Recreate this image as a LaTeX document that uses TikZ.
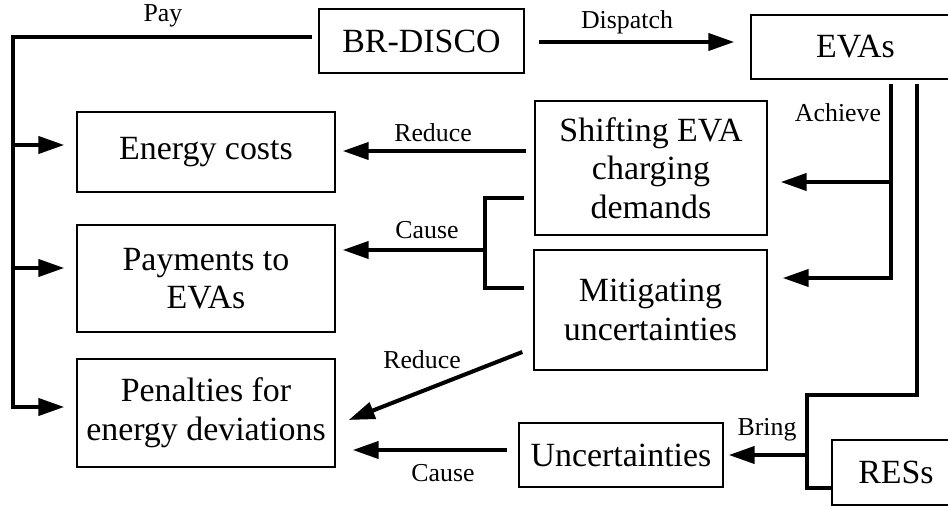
\documentclass[tikz,border=0pt]{standalone}
\usepackage{fontspec}
\setmainfont{Liberation Serif}
\usetikzlibrary{calc}
\usetikzlibrary{arrows.meta}

\tikzset{
	block/.style={draw=black, line width=0.8pt, minimum height=1.28cm, inner sep=0pt, align=center, font=\fontsize{19.3}{22}\selectfont},
	link/.style={draw=black, line width=2.3pt},
	flow/.style={link, -{Triangle[length=0.52cm, width=0.34cm]}},
	tag/.style={font=\fontsize{14.7}{16}\selectfont, inner sep=0pt}
}

\begin{document}
\begin{tikzpicture}[x=0.02cm, y=-0.02cm]
		\useasboundingbox (0,0) rectangle (948,506);
		\clip (0,0) rectangle (948,506);
		\node[block, minimum width=4.1cm] (disco) at (421.5,41) {BR-DISCO};
		\node[block, minimum width=4.18cm] (evas) at (855.5,47) {EVAs};
		\node[block, minimum width=5.16cm, minimum height=1.6cm] (cost) at (206,152) {Energy costs};
		\node[block, minimum width=5.16cm, minimum height=2.14cm] (paym) at (206,278.5) {Payments to\\EVAs};
		\node[block, minimum width=5.16cm, minimum height=2.16cm] (pen) at (206,413) {Penalties for\\energy deviations};
		\node[block, minimum width=4.64cm, minimum height=2.68cm] (shift) at (651,168) {Shifting EVA\\charging\\demands};
		\node[block, minimum width=4.66cm, minimum height=2.4cm] (mitig) at (650.5,310) {Mitigating\\uncertainties};
		\node[block, minimum width=4.08cm] (unc) at (621,455) {Uncertainties};
		\node[block, minimum width=2.56cm, minimum height=1.3cm] (res) at (896,472.5) {RESs};

		\coordinate (pay) at (13,37);
		\coordinate (tcost) at ($(cost.west)+(-12,-7)$);
		\coordinate (tpaym) at ($(paym.west)+(-12,-10.5)$);
		\coordinate (tpen) at ($(pen.west)+(-12,-6)$);
		\draw[flow] ($(disco.west)+(-6,-4)$) -- (pay) |- (tpen);
		\draw[flow] (pay |- tcost) -- (tcost);
		\draw[flow] (pay |- tpaym) -- (tpaym);
		\node[tag] (paylbl) at (163,16) {Pay};

		\draw[flow] ($(disco.east)+(14,1)$) -- ($(evas.west)+(-16,-5)$);
		\node[tag] (displbl) at (627,22) {Dispatch};

		\coordinate (ach) at ($(evas.south)+(35.5,4)$);
		\coordinate (tshift) at ($(shift.east)+(13,14)$);
		\draw[flow] (ach) |- ($(mitig.east)+(15,-32)$);
		\draw[flow] (ach |- tshift) -- (tshift);
		\node[tag] (achlbl) at (838,113) {Achieve};

		\coordinate (brg) at ($(evas.south)+(61.5,4)$);
		\coordinate (brgk) at (807,395);
		\draw[link] (brg) |- (brgk) |- ($(res.west)+(0,15.5)$);
		\draw[flow] (brgk |- unc.east) -- ($(unc.east)+(5,0)$);
		\node[tag] (brglbl) at (767,430) {Bring};

		\draw[flow] ($(shift.west)+(-8,-17)$) -- ($(cost.east)+(7,-1)$);
		\node[tag] (redlbl) at (433,133) {Reduce};

		\coordinate (cse) at (485,198);
		\coordinate (tcse) at ($(paym.east)+(7,-28.5)$);
		\draw[link] ($(shift.west)+(-10,30)$) -- (cse) |- ($(mitig.west)+(-9,-22)$);
		\draw[flow] (cse |- tcse) -- (tcse);
		\node[tag] (cselbl) at (427,230) {Cause};

		\draw[flow] ($(mitig.west)+(-11,42)$) -- ($(pen.east)+(13,7)$);
		\node[tag] (red2lbl) at (422,360) {Reduce};

		\draw[flow] ($(unc.west)+(-11,-5)$) -- ($(pen.east)+(17,37)$);
		\node[tag] (cse2lbl) at (443,473) {Cause};
	\end{tikzpicture}
\end{document}
